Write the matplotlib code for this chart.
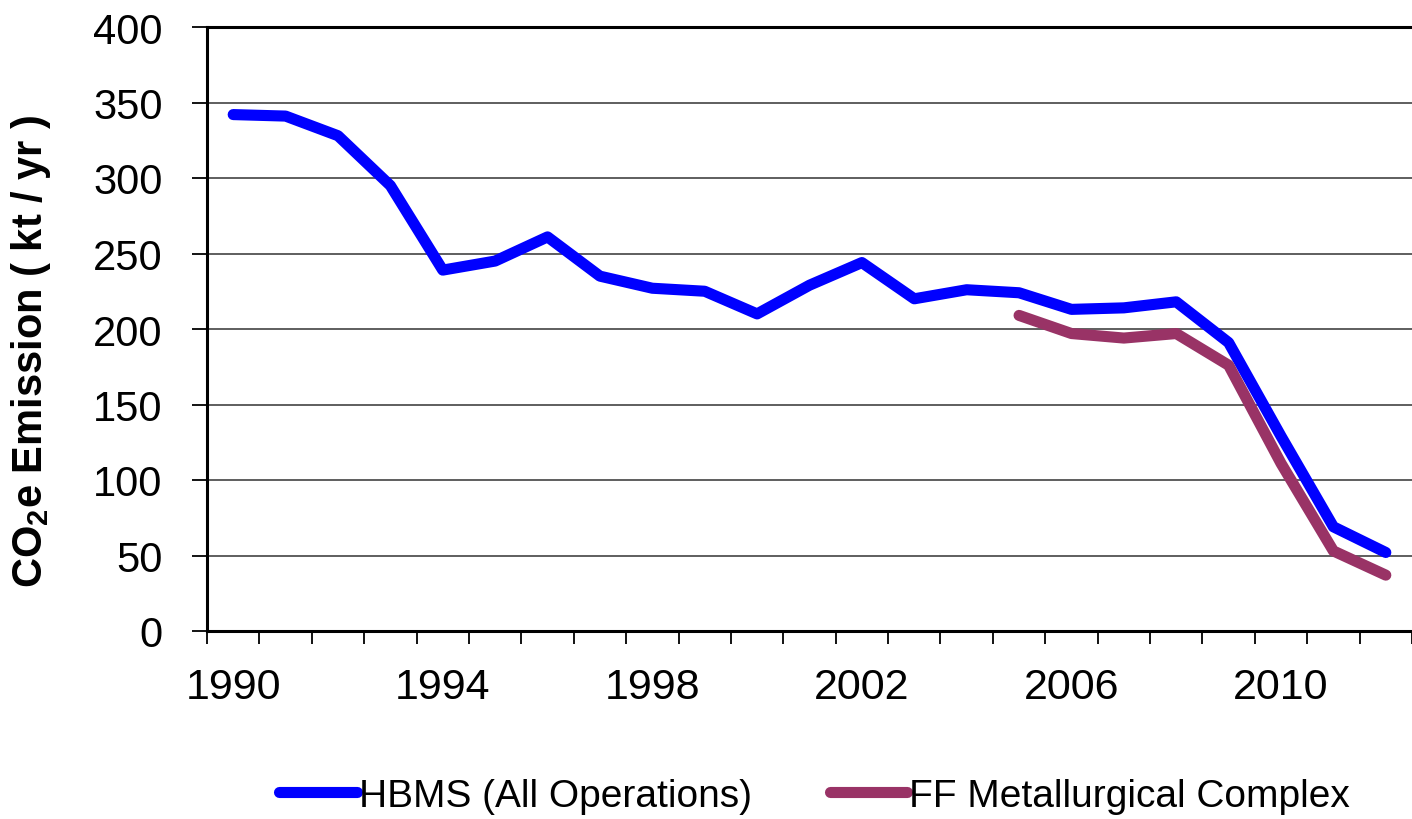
import numpy as np
import matplotlib
matplotlib.use("Agg")
import matplotlib.pyplot as plt

plt.rcParams['font.family'] = ['Liberation Sans', 'DejaVu Sans']
plt.rcParams['mathtext.fontset'] = 'custom'
plt.rcParams['mathtext.rm'] = 'Liberation Sans'
plt.rcParams['mathtext.bf'] = 'Liberation Sans:bold'

years = list(range(1990, 2013))
hbms = [342, 341, 328, 295, 239, 245, 261, 235, 227, 225, 210, 229, 244,
        220, 226, 224, 213, 214, 218, 191, 129, 69, 52]
ff_years = list(range(2005, 2013))
ff = [209, 197, 194, 197, 176, 111, 53, 37]
label_years = [1990, 1994, 1998, 2002, 2006, 2010]

fig = plt.figure(figsize=(14.12, 8.2), dpi=100)
ax = fig.add_axes([207 / 1412, 1 - 632 / 820, 1 - 207 / 1412, (632 - 28) / 820])

x_h = [years.index(y) for y in years]
x_f = [years.index(y) for y in ff_years]
ax.plot(x_h, hbms, color='#0000FF', lw=8, solid_capstyle='round',
        solid_joinstyle='round', label='HBMS (All Operations)', zorder=3)
ax.plot(x_f, ff, color='#993366', lw=8, solid_capstyle='round',
        solid_joinstyle='round', label='FF Metallurgical Complex', zorder=3)

ax.set_ylim(0, 400)
ax.set_xlim(-0.5, 22.42)
ax.set_yticks(range(0, 401, 50))
ax.yaxis.grid(True, color='#333333', lw=1.1)
ax.set_axisbelow(True)

# boundaries get tick marks, labels sit at category centres
ax.set_xticks(np.arange(-0.5, 23, 1))
ax.set_xticklabels([])
ax.set_xticks([years.index(y) for y in label_years], minor=True)
ax.set_xticklabels([str(y) for y in label_years], minor=True)
ax.tick_params(axis='x', which='major', length=9, width=1.3, direction='out')
ax.tick_params(axis='x', which='minor', length=0, pad=26, labelsize=31)
ax.tick_params(axis='y', length=11, width=1.3, direction='out', pad=21, labelsize=30)

for s in ['left', 'bottom', 'top']:
    ax.spines[s].set_linewidth(2.2)
ax.spines['right'].set_visible(False)

ax.set_ylabel(r'CO$_\mathbf{2}$e Emission ( kt / yr )', fontsize=30,
              fontweight='bold')
ax.yaxis.set_label_coords(-0.128, 0.465)

fig.legend(loc='center', bbox_to_anchor=(0.577, 1 - 797 / 820), ncol=2,
           frameon=False, fontsize=28, handlelength=2.0, handletextpad=0.05,
           columnspacing=2.0)

fig.savefig('out.png', dpi=100)
